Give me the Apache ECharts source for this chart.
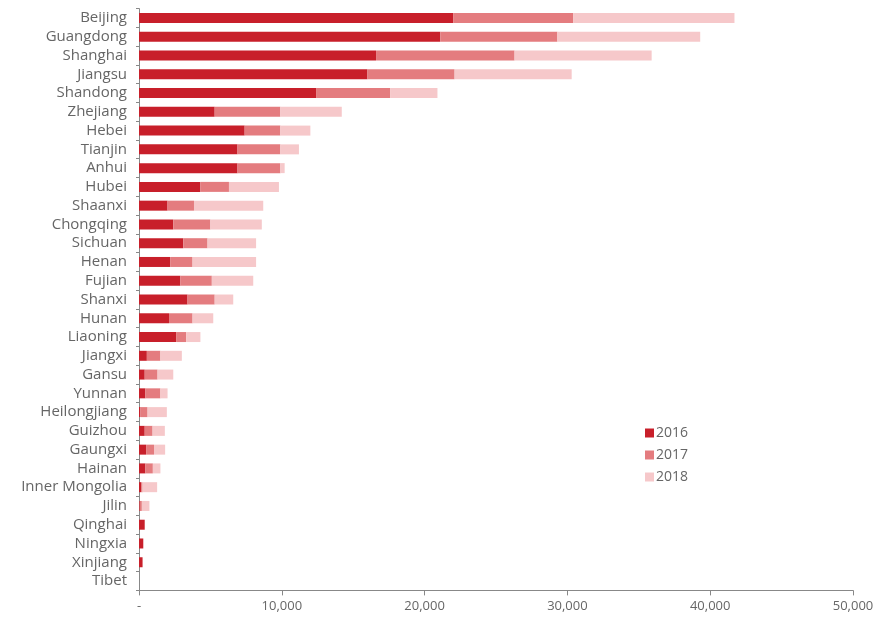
<!DOCTYPE html>
<html><head><meta charset="utf-8">
<script src="https://cdn.jsdelivr.net/npm/echarts@6/dist/echarts.min.js"></script>
<style>html,body{margin:0;padding:0;background:#fff}#c{width:880px;height:621px}</style>
</head><body><div id="c"></div>
<script>
const provinces = ["Beijing","Guangdong","Shanghai","Jiangsu","Shandong","Zhejiang","Hebei","Tianjin","Anhui","Hubei","Shaanxi","Chongqing","Sichuan","Henan","Fujian","Shanxi","Hunan","Liaoning","Jiangxi","Gansu","Yunnan","Heilongjiang","Guizhou","Gaungxi","Hainan","Inner Mongolia","Jilin","Qinghai","Ningxia","Xinjiang","Tibet"];
const v2016 = [22000,21100,16600,16000,12400,5300,7400,6900,6900,4300,2000,2400,3100,2200,2900,3400,2100,2600,550,400,450,100,400,500,450,150,50,400,300,250,0];
const v2017 = [8400,8200,9700,6100,5200,4600,2500,3000,3000,2000,1850,2600,1700,1550,2200,1900,1650,700,950,900,1050,500,550,550,520,100,150,0,0,0,0];
const v2018 = [11300,10000,9600,8200,3300,4300,2100,1300,300,3500,4850,3600,3400,4450,2900,1300,1450,1000,1500,1100,500,1350,860,780,530,1020,530,0,0,0,0];
const seriesNames = ["2016","2017","2018"];
const colors = ["#C81F2A","#E47C7F","#F6C8CA"];
const xTicks = {0:"-",10000:"10,000",20000:"20,000",30000:"30,000",40000:"40,000",50000:"50,000"};

const chart = echarts.init(document.getElementById('c'));
const font = "'Open Sans', Lato, sans-serif";
chart.setOption({
  animation:false,
  grid:{left:139,right:27,top:8.6,bottom:30.6,containLabel:false},
  legend:{
    orient:'vertical', left:640, top:421, itemWidth:9, itemHeight:9, itemGap:8,
    icon:'rect', data:seriesNames,
    textStyle:{color:'#666',fontSize:14,fontFamily:font,padding:[0,0,0,-3]}
  },
  xAxis:{
    type:'value', min:0, max:50000, interval:10000,
    axisLine:{show:true,lineStyle:{color:'#888',width:1}},
    axisTick:{show:true,length:5,lineStyle:{color:'#888'}},
    splitLine:{show:false},
    axisLabel:{color:'#666',fontSize:13,fontFamily:font,margin:9,formatter:v=>xTicks[v]}
  },
  yAxis:{
    type:'category', data:provinces, inverse:true,
    axisLine:{show:true,lineStyle:{color:'#888',width:1}},
    axisTick:{show:true,length:3,interval:0,lineStyle:{color:'#888'}},
    axisLabel:{color:'#666',fontSize:15,fontFamily:font,margin:12,interval:0,hideOverlap:false}
  },
  series:[v2016,v2017,v2018].map((d,i)=>({
    name:seriesNames[i], type:'bar', stack:'total', data:d,
    barWidth:10, itemStyle:{color:colors[i]}
  }))
});
</script></body></html>
